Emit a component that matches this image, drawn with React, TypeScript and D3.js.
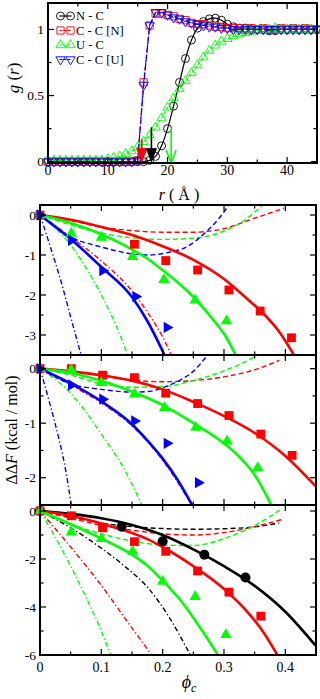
import React from 'react';
import * as d3 from 'd3';

const FONT = "'Liberation Serif', 'Times New Roman', serif";
const RED = '#ff0000';
const GREEN = '#00ff00';
const BLUE = '#0000ff';
const BLACK = '#000000';

// ---------- top panel: g(r) ----------
const rValues = [0, 1, 2, 3, 4, 5, 6, 7, 8, 9, 10, 11, 12, 13, 14, 15, 16, 17, 18, 19, 20, 21, 22,
  23, 24, 25, 26, 27, 28, 29, 30, 31, 32, 33, 34, 35, 36, 37, 38, 39, 40, 41, 42, 43, 44, 45];
const gNC = [0, 0, 0, 0, 0, 0, 0, 0, 0, 0, 0, 0, 0, 0, 0, 0, 0, 0.01, 0.04, 0.12, 0.25, 0.42, 0.6,
  0.78, 0.92, 1.01, 1.06, 1.08, 1.085, 1.07, 1.04, 1.02, 1.01, 1.01, 1.0, 1.0, 1.0, 0.99, 0.99, 1.0,
  1.0, 1.0, 1.0, 1.0, 1.0, 1.0];
const gCCN = [0, 0, 0, 0, 0, 0, 0, 0, 0, 0, 0, 0, 0, 0, 0, 0.01, 0.6, 1.03, 1.12, 1.12, 1.11, 1.1,
  1.08, 1.07, 1.05, 1.04, 1.04, 1.03, 1.02, 1.02, 1.01, 1.01, 1.01, 1.0, 1.01, 1.0, 1.01, 1.0, 1.0,
  1.01, 1.0, 1.01, 1.0, 1.01, 1.0, 1.0];
const gUC = [0.01, 0.01, 0.01, 0.01, 0.01, 0.01, 0.01, 0.01, 0.01, 0.01, 0.02, 0.03, 0.04, 0.06,
  0.08, 0.11, 0.15, 0.2, 0.26, 0.33, 0.41, 0.48, 0.55, 0.61, 0.67, 0.73, 0.79, 0.84, 0.88, 0.91,
  0.93, 0.95, 0.965, 0.975, 0.985, 0.99, 1.0, 1.0, 1.01, 1.0, 1.0, 1.0, 1.0, 1.0, 1.0, 1.0];
const gCCU = [0, 0, 0, 0, 0, 0, 0, 0, 0, 0, 0, 0, 0, 0, 0, 0.01, 0.58, 1.03, 1.13, 1.13, 1.11,
  1.09, 1.08, 1.06, 1.05, 1.04, 1.03, 1.02, 1.02, 1.01, 1.01, 1.0, 1.0, 1.0, 1.0, 1.0, 1.0, 1.0,
  1.0, 1.0, 1.0, 1.0, 1.0, 1.0, 1.0, 1.0];
const rTicks = [0, 10, 20, 30, 40];
const rMinor = [5, 15, 25, 35];
const gTicks = [0, 0.5, 1];
const gMinor = [0.25, 0.75];
const legendNames = ['N - C', 'C - C [N]', 'U - C', 'C - C [U]'];
const arrowR = [15.7, 17.3, 20.6];
const arrowTop = [0.17, 0.26, 0.25];

// ---------- lower panels: ddF(phi_c) ----------
type Pt = [number, number];
const phiTicks = [0, 0.1, 0.2, 0.3, 0.4];
const phiMinor = [0.05, 0.15, 0.25, 0.35];

// panel A
const redSqA_phi = [0, 0.154, 0.205, 0.257, 0.308, 0.359, 0.41];
const redSqA_val = [0, -0.73, -1.14, -1.375, -1.875, -2.4, -3.07];
const greenTriA_phi = [0, 0.051, 0.1, 0.151, 0.202, 0.253, 0.304];
const greenTriA_val = [0, -0.46, -0.56, -1.04, -1.62, -2.13, -2.65];
const blueTriA_phi = [0, 0.051, 0.102, 0.156, 0.207];
const blueTriA_val = [0, -0.63, -1.39, -2.04, -2.81];
const redSolidA: Pt[] = [[0, 0], [0.05, -0.12], [0.1, -0.3], [0.15, -0.5], [0.2, -0.78], [0.25, -1.12], [0.3, -1.6], [0.338, -2.1], [0.36, -2.4], [0.392, -2.96], [0.414, -3.5]];
const redDashA: Pt[] = [[0, 0], [0.05, -0.14], [0.1, -0.3], [0.15, -0.39], [0.2, -0.43], [0.25, -0.43], [0.3, -0.34], [0.35, -0.08], [0.398, 0.17]];
const redDotA: Pt[] = [[0, 0], [0.05, -0.55], [0.1, -1.15], [0.15, -1.9], [0.176, -2.45], [0.2, -3.05], [0.214, -3.5]];
const greenSolidA: Pt[] = [[0, 0], [0.05, -0.2], [0.1, -0.48], [0.15, -0.86], [0.176, -1.1], [0.2, -1.38], [0.25, -2.05], [0.284, -2.65], [0.3, -2.97], [0.319, -3.5]];
const greenDashA: Pt[] = [[0, 0], [0.05, -0.25], [0.1, -0.45], [0.15, -0.57], [0.2, -0.61], [0.25, -0.58], [0.3, -0.4], [0.338, -0.08], [0.363, 0.25]];
const greenDotA: Pt[] = [[0, 0], [0.025, -0.33], [0.05, -0.75], [0.075, -1.32], [0.1, -2.0], [0.125, -2.8], [0.143, -3.5]];
const blueSolidA: Pt[] = [[0, 0], [0.05, -0.6], [0.1, -1.3], [0.15, -2.05], [0.175, -2.65], [0.203, -3.5]];
const blueDashA: Pt[] = [[0, 0], [0.05, -0.55], [0.1, -0.8], [0.15, -0.97], [0.176, -1.0], [0.208, -0.94], [0.24, -0.79], [0.268, -0.46], [0.29, -0.12], [0.308, 0.25]];
const blueDotA: Pt[] = [[0, 0], [0.018, -0.85], [0.035, -1.7], [0.05, -2.55], [0.067, -3.5]];

// panel B
const redSqB_phi = [0, 0.051, 0.102, 0.154, 0.205, 0.257, 0.308, 0.36, 0.411];
const redSqB_val = [0, 0, -0.12, -0.165, -0.45, -0.64, -0.86, -1.2, -1.59];
const greenTriB_phi = [0, 0.051, 0.1, 0.154, 0.203, 0.254, 0.305, 0.355];
const greenTriB_val = [0, -0.02, -0.26, -0.47, -0.72, -1.08, -1.33, -1.82];
const blueTriB_phi = [0, 0.051, 0.102, 0.154, 0.207, 0.258];
const blueTriB_val = [0, -0.3, -0.56, -0.96, -1.37, -2.09];
const redSolidB: Pt[] = [[0, 0], [0.05, -0.05], [0.1, -0.12], [0.15, -0.22], [0.2, -0.38], [0.25, -0.61], [0.3, -0.87], [0.35, -1.18], [0.4, -1.6], [0.449, -2.15]];
const redDashB: Pt[] = [[0, 0], [0.05, -0.05], [0.1, -0.13], [0.15, -0.21], [0.2, -0.24], [0.25, -0.22], [0.3, -0.15], [0.35, -0.02], [0.39, 0.15]];
const redDotB: Pt[] = [[0, 0], [0.05, -0.3], [0.1, -0.63], [0.15, -1.05], [0.2, -1.68], [0.25, -2.55]];
const greenSolidB: Pt[] = [[0, 0], [0.05, -0.08], [0.1, -0.22], [0.15, -0.42], [0.2, -0.67], [0.25, -1.0], [0.3, -1.37], [0.325, -1.62], [0.35, -1.95], [0.377, -2.5]];
const greenDashB: Pt[] = [[0, 0], [0.05, -0.12], [0.1, -0.28], [0.15, -0.34], [0.2, -0.33], [0.25, -0.22], [0.3, -0.04], [0.33, 0.1], [0.355, 0.25]];
const greenDotB: Pt[] = [[0, 0], [0.05, -0.45], [0.1, -1.2], [0.14, -1.9], [0.166, -2.5]];
const blueSolidB: Pt[] = [[0, 0], [0.05, -0.27], [0.1, -0.6], [0.15, -1.02], [0.176, -1.33], [0.2, -1.65], [0.225, -2.05], [0.248, -2.5]];
const blueDashB: Pt[] = [[0, 0], [0.05, -0.28], [0.1, -0.38], [0.15, -0.43], [0.176, -0.42], [0.2, -0.35], [0.23, -0.2], [0.25, -0.05], [0.273, 0.25]];
const blueDotB: Pt[] = [[0, 0], [0.015, -0.6], [0.03, -1.25], [0.04, -1.75], [0.051, -2.5]];

// panel C
const blackCirC_phi = [0, 0.133, 0.2, 0.268, 0.335];
const blackCirC_val = [0, -0.65, -1.26, -1.82, -2.77];
const redSqC_phi = [0, 0.051, 0.102, 0.154, 0.205, 0.257, 0.308, 0.36];
const redSqC_val = [0, -0.2, -0.7, -1.28, -1.68, -2.5, -3.38, -4.38];
const greenTriC_phi = [0, 0.051, 0.1, 0.151, 0.2, 0.253, 0.303];
const greenTriC_val = [0, -0.88, -1.16, -1.69, -2.94, -3.57, -5.16];
const blackSolidC: Pt[] = [[0, 0], [0.05, -0.12], [0.1, -0.3], [0.15, -0.58], [0.2, -1.0], [0.25, -1.6], [0.3, -2.3], [0.35, -3.12], [0.4, -4.2], [0.449, -5.6]];
const blackDashC: Pt[] = [[0, 0], [0.05, -0.25], [0.1, -0.5], [0.15, -0.65], [0.2, -0.73], [0.25, -0.76], [0.3, -0.74], [0.35, -0.66], [0.39, -0.5]];
const blackDotC: Pt[] = [[0, 0], [0.05, -0.7], [0.1, -1.55], [0.138, -2.3], [0.176, -3.2], [0.21, -4.4], [0.245, -6.0]];
const redSolidC: Pt[] = [[0, 0], [0.05, -0.2], [0.1, -0.52], [0.15, -0.92], [0.176, -1.18], [0.2, -1.5], [0.25, -2.3], [0.3, -3.25], [0.338, -4.2], [0.36, -4.9], [0.387, -6.0]];
const redDashC: Pt[] = [[0, 0], [0.05, -0.3], [0.1, -0.6], [0.15, -0.8], [0.2, -0.95], [0.25, -1.0], [0.3, -0.9], [0.35, -0.65], [0.395, -0.35]];
const redDotC: Pt[] = [[0, 0], [0.05, -1.5], [0.1, -3.1], [0.138, -4.45], [0.182, -6.0]];
const greenSolidC: Pt[] = [[0, 0], [0.05, -0.55], [0.1, -1.15], [0.15, -1.82], [0.176, -2.3], [0.2, -2.9], [0.23, -3.75], [0.262, -4.9], [0.29, -6.0]];
const greenDashC: Pt[] = [[0, 0], [0.05, -0.55], [0.1, -0.95], [0.15, -1.25], [0.2, -1.42], [0.25, -1.44], [0.3, -1.15], [0.35, -0.6], [0.395, 0.1]];
const greenDotC: Pt[] = [[0, 0], [0.025, -1.1], [0.05, -2.3], [0.075, -3.6], [0.1, -5.0], [0.115, -6.0]];

const xPhi = d3.scaleLinear().domain([0, 0.45]).range([40, 316]);
const xR = d3.scaleLinear().domain([0, 45]).range([48, 317]);
const yG = d3.scaleLinear().domain([-0.01, 1.2]).range([163, 3]);

const symPath = (type: d3.SymbolType, size: number) => d3.symbol().type(type).size(size)() || '';

function markerPath(shape: string, big: boolean) {
  if (shape === 'circle') return symPath(d3.symbolCircle, big ? 80 : 50);
  if (shape === 'square') return symPath(d3.symbolSquare, big ? 78 : 52);
  return symPath(d3.symbolTriangle, big ? 56 : 38);
}
const markerRot = (shape: string) => (shape === 'triRight' ? 90 : shape === 'triDown' ? 180 : 0);

function Frame({ left, right, top, bottom, xMaj, xMin, yMaj, yMin }:
  { left: number; right: number; top: number; bottom: number; xMaj: number[]; xMin: number[]; yMaj: number[]; yMin: number[] }) {
  const M = 6, m = 3.5;
  const segs: number[][] = [];
  xMaj.forEach(x => { segs.push([x, bottom, x, bottom - M]); segs.push([x, top, x, top + M]); });
  xMin.forEach(x => { segs.push([x, bottom, x, bottom - m]); segs.push([x, top, x, top + m]); });
  yMaj.forEach(y => { segs.push([left, y, left + M, y]); segs.push([right, y, right - M, y]); });
  yMin.forEach(y => { segs.push([left, y, left + m, y]); segs.push([right, y, right - m, y]); });
  return (
    <g stroke={BLACK}>
      {segs.map((s, i) => <line key={i} x1={s[0]} y1={s[1]} x2={s[2]} y2={s[3]} strokeWidth={1.2} />)}
      <rect x={left} y={top} width={right - left} height={bottom - top} fill="none" strokeWidth={2} />
    </g>
  );
}

function TopPanel() {
  const series = [
    { vals: gNC, color: BLACK, dash: undefined, shape: 'circle' },
    { vals: gCCN, color: RED, dash: '4,2', shape: 'square' },
    { vals: gUC, color: GREEN, dash: '3,2', shape: 'triangle' },
    { vals: gCCU, color: BLUE, dash: '7,2', shape: 'triDown' },
  ];
  const line = d3.line<number>().x((_, i) => xR(rValues[i])).y(d => yG(d));
  const [x0, x1] = xR.range();
  const [y1, y0] = yG.range();
  const legendY = [16, 30.5, 45, 59.5];
  return (
    <g>
      {series.map((s, si) => (
        <g key={si}>
          <path d={line.curve(si === 0 ? d3.curveCatmullRom : d3.curveLinear)(s.vals) || ''} fill="none"
            stroke={s.color} strokeWidth={1.2} strokeDasharray={s.dash} />
          {s.vals.map((v, i) => (
            <path key={i} d={markerPath(s.shape, false)} fill="none" stroke={s.color} strokeWidth={0.9}
              transform={`translate(${xR(rValues[i])},${yG(v)}) rotate(${markerRot(s.shape)})`} />
          ))}
        </g>
      ))}
      {arrowR.map((r, i) => {
        const x = xR(r), yt = yG(arrowTop[i]), yb = yG(i === 2 ? -0.01 : 0);
        const c = [RED, BLACK, GREEN][i];
        return (
          <g key={i}>
            <line x1={x} x2={x} y1={yt} y2={yb - 2} stroke={c} strokeWidth={1.6} />
            {i === 2
              ? <path d={`M${x - 5},${yb - 13}L${x},${yb}L${x + 5},${yb - 13}`} fill="none" stroke={c} strokeWidth={1.6} />
              : <path d={`M${x - 5},${yb - 13}L${x},${yb}L${x + 5},${yb - 13}Z`} fill={c} stroke={c} strokeWidth={1} />}
          </g>
        );
      })}
      {series.map((s, si) => (
        <g key={'l' + si}>
          <line x1={59.5} x2={71.5} y1={legendY[si]} y2={legendY[si]} stroke={s.color} strokeWidth={1.2}
            strokeDasharray={s.dash ? '3,1' : undefined} />
          {[60.5, 70.5].map(x => (
            <path key={x} d={markerPath(s.shape, false)} fill="none" stroke={s.color} strokeWidth={0.9}
              transform={`translate(${x},${legendY[si]}) rotate(${markerRot(s.shape)})`} />
          ))}
          <text x={76} y={legendY[si] + 4.3} fontSize={12.5}>{legendNames[si]}</text>
        </g>
      ))}
      <Frame left={x0} right={x1} top={y0} bottom={y1}
        xMaj={rTicks.map(xR)} xMin={rMinor.map(xR)} yMaj={gTicks.map(yG)} yMin={gMinor.map(yG)} />
      {rTicks.map(t => <text key={t} x={xR(t)} y={175} fontSize={14} textAnchor="middle">{t}</text>)}
      {gTicks.map(t => <text key={t} x={44} y={yG(t) + 4.5} fontSize={13.5} textAnchor="end">{t}</text>)}
    </g>
  );
}

interface LSeries { color: string; solid: Pt[]; dash: Pt[]; dot: Pt[]; phi: number[]; val: number[]; shape: string }
interface LPanel { id: string; domain: [number, number]; range: [number, number]; yMaj: number[]; yMin: number[]; series: LSeries[]; xLabels: boolean }

const panels: LPanel[] = [
  {
    id: 'a', domain: [-3.5, 0.25], range: [355, 205], yMaj: [0, -1, -2, -3], yMin: [-0.5, -1.5, -2.5], xLabels: false,
    series: [
      { color: RED, solid: redSolidA, dash: redDashA, dot: redDotA, phi: redSqA_phi, val: redSqA_val, shape: 'square' },
      { color: GREEN, solid: greenSolidA, dash: greenDashA, dot: greenDotA, phi: greenTriA_phi, val: greenTriA_val, shape: 'triangle' },
      { color: BLUE, solid: blueSolidA, dash: blueDashA, dot: blueDotA, phi: blueTriA_phi, val: blueTriA_val, shape: 'triRight' },
    ],
  },
  {
    id: 'b', domain: [-2.5, 0.25], range: [505, 355], yMaj: [0, -1, -2], yMin: [-0.5, -1.5], xLabels: false,
    series: [
      { color: RED, solid: redSolidB, dash: redDashB, dot: redDotB, phi: redSqB_phi, val: redSqB_val, shape: 'square' },
      { color: GREEN, solid: greenSolidB, dash: greenDashB, dot: greenDotB, phi: greenTriB_phi, val: greenTriB_val, shape: 'triangle' },
      { color: BLUE, solid: blueSolidB, dash: blueDashB, dot: blueDotB, phi: blueTriB_phi, val: blueTriB_val, shape: 'triRight' },
    ],
  },
  {
    id: 'c', domain: [-6, 0.25], range: [655, 505], yMaj: [0, -2, -4, -6], yMin: [-1, -3, -5], xLabels: true,
    series: [
      { color: BLACK, solid: blackSolidC, dash: blackDashC, dot: blackDotC, phi: blackCirC_phi, val: blackCirC_val, shape: 'circle' },
      { color: RED, solid: redSolidC, dash: redDashC, dot: redDotC, phi: redSqC_phi, val: redSqC_val, shape: 'square' },
      { color: GREEN, solid: greenSolidC, dash: greenDashC, dot: greenDotC, phi: greenTriC_phi, val: greenTriC_val, shape: 'triangle' },
    ],
  },
];

function LowerPanel({ p }: { p: LPanel }) {
  const y = d3.scaleLinear().domain(p.domain).range(p.range);
  const line = d3.line<Pt>().x(d => xPhi(d[0])).y(d => y(d[1])).curve(d3.curveMonotoneX);
  const [left, right] = xPhi.range();
  const [bottom, top] = p.range;
  const clip = `clip-${p.id}`;
  return (
    <g>
      <defs>
        <clipPath id={clip}><rect x={left} y={top} width={right - left} height={bottom - top} /></clipPath>
      </defs>
      <g clipPath={`url(#${clip})`} fill="none">
        {p.series.map((s, i) => (
          <path key={'dd' + i} d={line(s.dot) || ''} stroke={s.color} strokeWidth={1.4} strokeDasharray="5,2.5,1.3,2.5" />
        ))}
        {p.series.map((s, i) => (
          <path key={'da' + i} d={line(s.dash) || ''} stroke={s.color} strokeWidth={1.4} strokeDasharray="5,3" />
        ))}
        {p.series.map((s, i) => (
          <path key={'so' + i} d={line(s.solid) || ''} stroke={s.color} strokeWidth={2.6} />
        ))}
      </g>
      {p.series.map((s, i) => (
        <g key={'m' + i}>
          {s.phi.map((ph, j) => (
            <path key={j} d={markerPath(s.shape, true)} fill={s.color}
              transform={`translate(${xPhi(ph)},${y(s.val[j])}) rotate(${markerRot(s.shape)})`} />
          ))}
        </g>
      ))}
      <Frame left={left} right={right} top={top} bottom={bottom}
        xMaj={phiTicks.map(xPhi)} xMin={phiMinor.map(xPhi)} yMaj={p.yMaj.map(y)} yMin={p.yMin.map(y)} />
      {p.yMaj.map(t => <text key={t} x={36} y={y(t) + 4.5} fontSize={13.5} textAnchor="end">{t}</text>)}
      {p.xLabels && phiTicks.map(t => <text key={t} x={xPhi(t)} y={672} fontSize={14} textAnchor="middle">{t}</text>)}
    </g>
  );
}

export default function App() {
  return (
    <div style={{ position: 'absolute', left: 0, top: 0 }}>
      <svg width={320} height={699} style={{ display: 'block', background: '#fff', fontFamily: FONT }}>
        <TopPanel />
        {panels.map(p => <LowerPanel key={p.id} p={p} />)}
        <text transform="translate(19,78) rotate(-90)" textAnchor="middle" fontSize={17}>
          <tspan fontStyle="italic">g</tspan> (<tspan fontStyle="italic">r</tspan>)
        </text>
        <text x={179} y={200} textAnchor="middle" fontSize={16}>
          <tspan fontStyle="italic">r</tspan> ( Å )
        </text>
        <text transform="translate(17,430) rotate(-90)" textAnchor="middle" fontSize={16}>
          ΔΔ<tspan fontStyle="italic">F</tspan> (kcal / mol)
        </text>
        <text x={189} y={688} textAnchor="middle" fontSize={18}>
          <tspan fontStyle="italic">ϕ</tspan><tspan fontStyle="italic" fontSize={12} dy={4}>c</tspan>
        </text>
      </svg>
    </div>
  );
}
